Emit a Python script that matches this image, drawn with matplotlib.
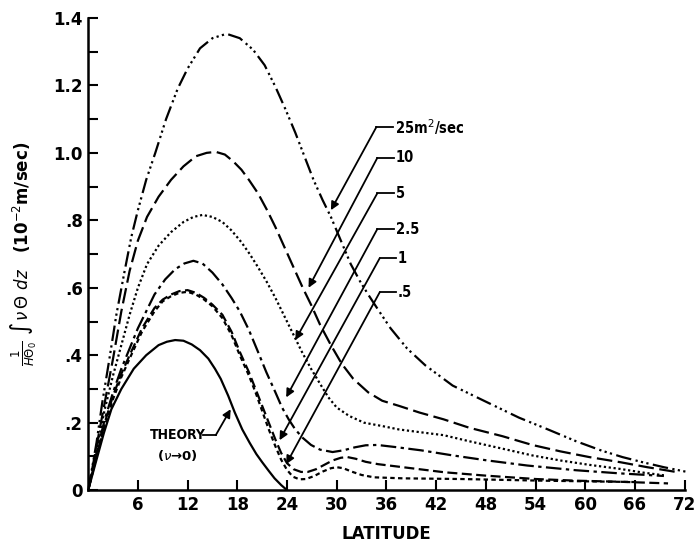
import matplotlib.pyplot as plt
import numpy as np

# latitude / value pairs, one set per diffusivity
lat_25 = [0, 0.5, 1, 1.7, 2.5, 3.4, 4.4, 5.2, 6, 7, 8.1, 9.4, 10.8, 12, 13.5, 15, 16.7, 18.3, 19.9, 21.3,
          22.6, 23.8, 25, 26.1, 27.2, 28.3, 29.3, 30.5, 31.7, 32.8, 33.8, 35, 36.5, 38.5, 40.7, 44, 48.2,
          52, 55.5, 58.9, 62, 64.5, 66.9, 69.5, 72.5]
val_25 = [0, 0.07, 0.14, 0.26, 0.38, 0.52, 0.65, 0.75, 0.83, 0.92, 1.0, 1.1, 1.19, 1.25, 1.31, 1.34, 1.353,
          1.34, 1.306, 1.26, 1.196, 1.13, 1.06, 0.99, 0.92, 0.86, 0.81, 0.74, 0.67, 0.62, 0.58, 0.535,
          0.48, 0.42, 0.37, 0.31, 0.26, 0.215, 0.18, 0.145, 0.117, 0.098, 0.083, 0.068, 0.053]

lat_10 = [0, 0.5, 1, 2, 3, 4, 5, 6, 7.1, 8.5, 10, 11.5, 13, 14.3, 15.4, 16.5, 17.5, 18.5, 19.4, 20.5, 21.6,
          22.6, 23.7, 24.8, 25.9, 26.9, 28, 29.3, 30.6, 32, 33.8, 35.5, 37.5, 40, 42.9, 46, 50, 53.6, 57,
          60.5, 64.2, 67.5, 71.2]
val_10 = [0, 0.065, 0.13, 0.26, 0.39, 0.53, 0.65, 0.74, 0.81, 0.87, 0.92, 0.96, 0.99, 1.0, 1.003, 0.995,
          0.975, 0.95, 0.92, 0.88, 0.83, 0.78, 0.72, 0.66, 0.60, 0.55, 0.49, 0.43, 0.375, 0.33, 0.29, 0.265,
          0.25, 0.23, 0.21, 0.185, 0.16, 0.134, 0.115, 0.098, 0.083, 0.068, 0.053]

lat_5 = [0, 0.5, 1, 2, 3, 4, 5, 6, 7.1, 8.5, 10, 11.5, 12.7, 13.8, 15, 16.2, 17.3, 18.5, 19.5, 20.4, 21.5,
         22.6, 23.7, 24.7, 25.8, 26.9, 28, 29, 30, 31.5, 33.3, 35.5, 37.5, 40, 42.9, 46, 50, 53.6, 57,
         60.5, 64.2, 67, 69.5]
val_5 = [0, 0.06, 0.12, 0.24, 0.34, 0.43, 0.52, 0.60, 0.67, 0.725, 0.765, 0.795, 0.81, 0.816, 0.81, 0.795,
         0.77, 0.735, 0.70, 0.665, 0.62, 0.57, 0.515, 0.465, 0.41, 0.36, 0.315, 0.275, 0.245, 0.22, 0.20,
         0.19, 0.18, 0.172, 0.163, 0.145, 0.123, 0.103, 0.088, 0.075, 0.063, 0.052, 0.044]

lat_2p5 = [0, 0.5, 1, 2, 3, 4, 5, 6, 7, 8, 9.3, 10.5, 11.6, 12.7, 13.8, 15, 16.2, 17.3, 18.3, 19.4, 20.5,
           21.5, 22.6, 23.4, 24.2, 25, 25.9, 26.9, 28, 29.5, 30.8, 32.2, 33.5, 34.9, 37, 40.2, 44, 48.2,
           53, 58.9, 64, 69.5]
val_2p5 = [0, 0.055, 0.11, 0.21, 0.29, 0.36, 0.42, 0.48, 0.53, 0.58, 0.625, 0.655, 0.672, 0.68, 0.672,
           0.645, 0.61, 0.57, 0.53, 0.475, 0.41, 0.35, 0.29, 0.245, 0.21, 0.18, 0.155, 0.134, 0.12, 0.113,
           0.118, 0.127, 0.133, 0.134, 0.128, 0.118, 0.103, 0.088, 0.073, 0.059, 0.05, 0.042]

lat_1 = [0, 0.5, 1, 2, 3, 4, 5, 6.5, 8, 9, 10, 11, 12, 13, 14, 15, 16.2, 17.3, 18.3, 19.4, 20.2, 21, 21.8,
         22.6, 23.3, 24, 24.8, 25.7, 26.5, 27.5, 28.5, 29.5, 30.5, 31.3, 32.3, 33.5, 35, 38, 43, 48, 54,
         59, 64, 70]
val_1 = [0, 0.05, 0.1, 0.2, 0.28, 0.345, 0.40, 0.48, 0.54, 0.565, 0.58, 0.59, 0.593, 0.585, 0.57, 0.55,
         0.52, 0.47, 0.41, 0.35, 0.30, 0.25, 0.20, 0.15, 0.11, 0.08, 0.062, 0.054, 0.054, 0.062, 0.075,
         0.088, 0.096, 0.098, 0.093, 0.084, 0.077, 0.068, 0.053, 0.043, 0.033, 0.028, 0.025, 0.02]

lat_p5 = [0, 0.5, 1, 2, 3, 4, 5, 6.5, 8, 9, 10, 11, 12, 13, 14, 15, 16.2, 17.3, 18.3, 19.4, 20.2, 21, 21.8,
          22.6, 23.3, 24, 24.7, 25.5, 26.3, 27.3, 28.3, 29.3, 30, 30.8, 31.8, 33, 34.5, 38, 45, 55, 66]
val_p5 = [0, 0.05, 0.1, 0.19, 0.27, 0.335, 0.39, 0.47, 0.53, 0.56, 0.575, 0.585, 0.588, 0.58, 0.565,
          0.545, 0.51, 0.46, 0.40, 0.34, 0.29, 0.235, 0.18, 0.13, 0.09, 0.06, 0.04, 0.032, 0.033, 0.042,
          0.055, 0.065, 0.068, 0.065, 0.055, 0.045, 0.038, 0.035, 0.033, 0.028, 0.024]

lat_th = [0, 0.5, 1, 1.9, 2.8, 4, 5.5, 7, 8.5, 9.5, 10.5, 11.5, 12.5, 13.5, 14.5, 15.3, 16, 16.9, 17.7,
          18.6, 19.5, 20.3, 21, 21.8, 22.5, 23.3, 24]
val_th = [0, 0.045, 0.09, 0.17, 0.24, 0.30, 0.36, 0.40, 0.43, 0.44, 0.445, 0.443, 0.432, 0.415, 0.39,
          0.36, 0.33, 0.28, 0.23, 0.18, 0.14, 0.107, 0.083, 0.057, 0.035, 0.015, 0]

labels = ["25m$^2$/sec", "10", "5", "2.5", "1", ".5"]

xticks = [6, 12, 18, 24, 30, 36, 42, 48, 54, 60, 66, 72]
yticks = [0, 0.2, 0.4, 0.6, 0.8, 1.0, 1.2, 1.4]
ylabels = ["0", ".2", ".4", ".6", ".8", "1.0", "1.2", "1.4"]

fig = plt.figure(figsize=(7, 5.44), dpi=100)
ax = fig.add_axes([0.126, 0.099, 0.852, 0.868])

lw = 1.6
ax.plot(lat_25, val_25, color='k', lw=lw, dashes=(7, 2, 1, 1.5, 1, 1.5, 1, 2), clip_on=False)
ax.plot(lat_10, val_10, color='k', lw=lw, dashes=(7, 2.5))
ax.plot(lat_5, val_5, color='k', lw=lw, dashes=(1, 1.2))
ax.plot(lat_2p5, val_2p5, color='k', lw=lw, dashes=(7, 2, 1.5, 2))
ax.plot(lat_1, val_1, color='k', lw=lw, dashes=(4.5, 2))
ax.plot(lat_p5, val_p5, color='k', lw=lw, dashes=(2, 1.5))
ax.plot(lat_th, val_th, color='k', lw=lw)

# leader lines: label corner (lat, val) and arrow tip on the curve
corners = [(34.8, 1.077), (34.9, 0.985), (34.9, 0.88), (34.9, 0.774), (35.2, 0.688), (35.2, 0.587)]
tips = [(29.3, 0.83), (26.6, 0.60), (25.0, 0.445), (23.9, 0.275), (23.1, 0.148), (23.9, 0.077)]
for lab, (cx, cy), (tx, ty) in zip(labels, corners, tips):
    ax.plot([cx, cx + 2.0], [cy, cy], color='k', lw=1.3)
    ax.annotate("", xy=(tx, ty), xytext=(cx, cy),
                arrowprops=dict(arrowstyle='-|>', color='k', lw=1.3,
                                mutation_scale=12, shrinkA=0, shrinkB=0))
    ax.text(cx + 2.2, cy, lab, fontsize=10.5, fontweight='bold', va='center', ha='left',
            fontstretch='condensed')

# theory label
ax.text(10.8, 0.163, "THEORY", fontsize=10, fontweight='bold', ha='center', va='center',
        fontstretch='condensed')
ax.text(10.8, 0.104, "($\\nu$→0)", fontsize=9.5, fontweight='bold', ha='center', va='center')
ax.plot([13.9, 15.4], [0.163, 0.163], color='k', lw=1.3)
ax.annotate("", xy=(17.2, 0.24), xytext=(15.4, 0.163),
            arrowprops=dict(arrowstyle='-|>', color='k', lw=1.3, mutation_scale=12,
                            shrinkA=0, shrinkB=0))

ax.set_xlim(0, 72)
ax.set_ylim(0, 1.4)
ax.spines['top'].set_visible(False)
ax.spines['right'].set_visible(False)
ax.spines['left'].set_linewidth(1.8)
ax.spines['bottom'].set_linewidth(1.8)

ax.set_xticks(xticks)
ax.set_xticklabels([str(t) for t in xticks], fontsize=12, fontweight='bold')
ax.set_yticks(yticks)
ax.set_yticklabels(ylabels, fontsize=12, fontweight='bold')
ax.set_yticks(np.arange(0.1, 1.4, 0.2), minor=True)
ax.tick_params(axis='both', which='major', direction='in', length=7, width=1.5, pad=4)
ax.tick_params(axis='y', which='minor', direction='in', length=7, width=1.5)

ax.set_xlabel("LATITUDE", fontsize=12, fontweight='bold', labelpad=8)
ax.set_ylabel("$\\frac{1}{H\\Theta_0}\\ \\int\\,\\nu\\,\\Theta\\ dz$   (10$^{-2}$m/sec)",
              fontsize=12, fontweight='bold', labelpad=10)

fig.savefig("out.png", dpi=100)
